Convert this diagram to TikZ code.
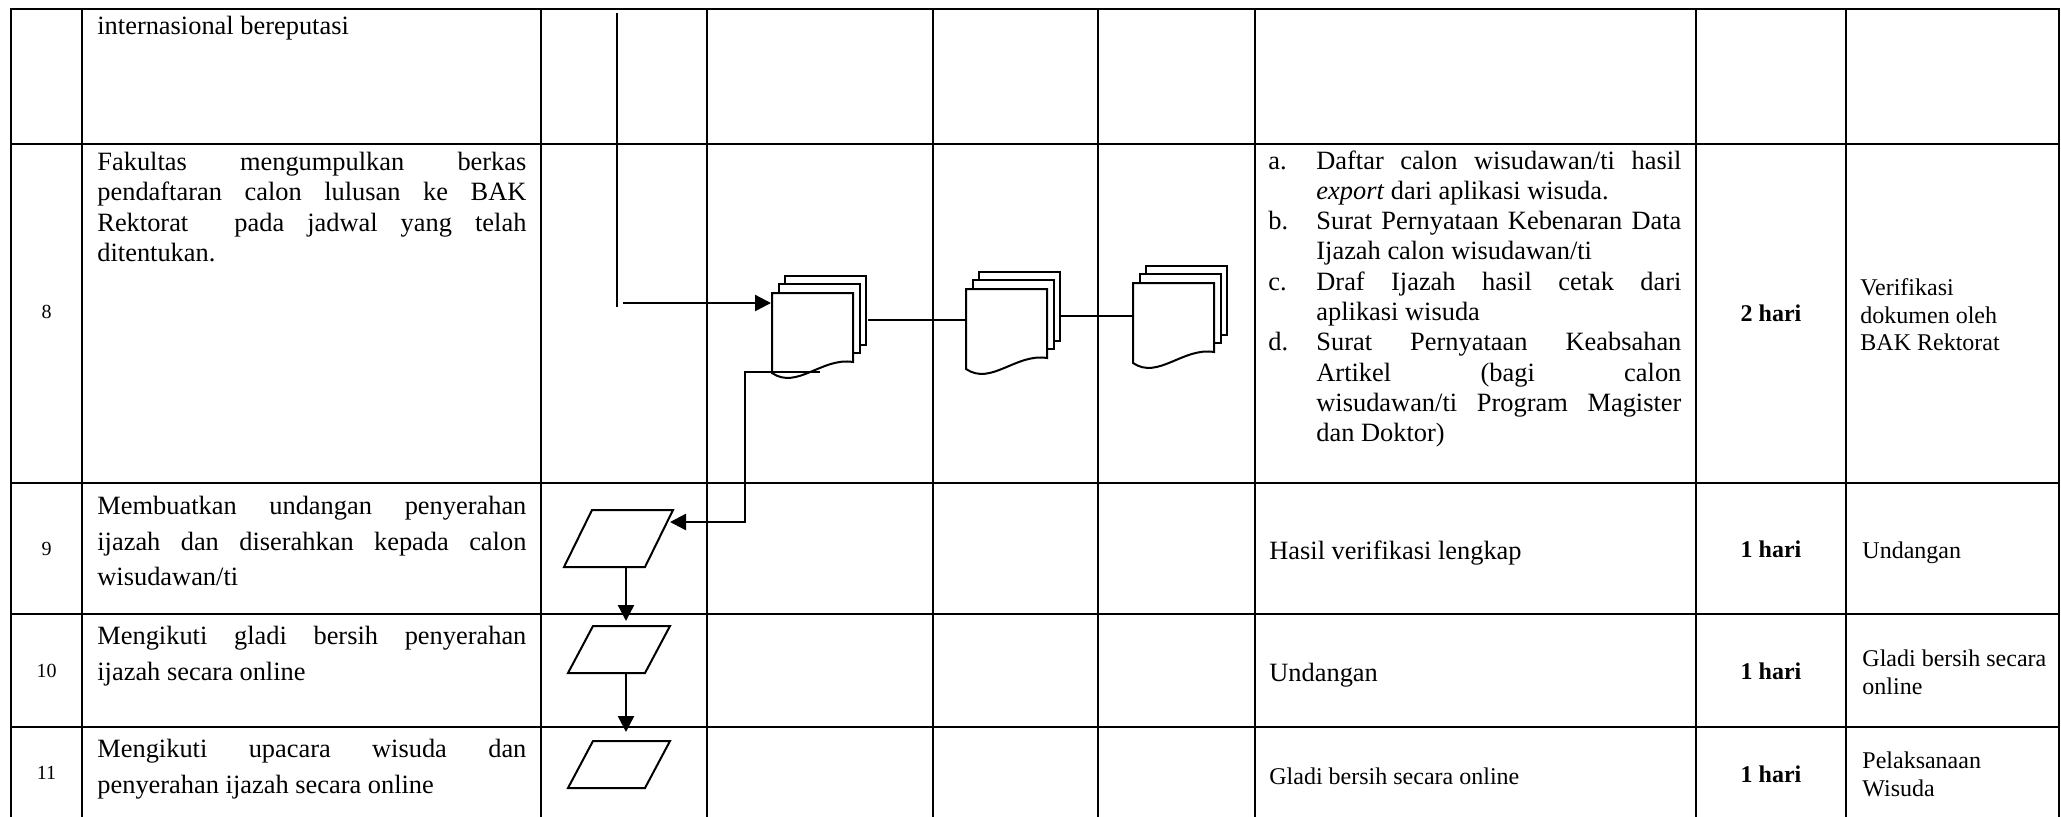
\documentclass[tikz,border=0pt]{standalone}
\usepackage{fontspec}
\setmainfont{Liberation Serif}
\usetikzlibrary{arrows.meta}
\newcommand\jline[2]{\makebox[#1][s]{#2}}
\newcommand\mydocstack[2]{%
  \begin{scope}[shift={(#1,#2)}]
    \draw[shapeline] (13,-17) rectangle (94,52);
    \draw[shapeline] (6.5,-9) rectangle (87.5,60);
    \draw[shapeline] (0,0) -- (81,0) -- (81,69) .. controls (50,64) and (25,97) .. (0,80) -- cycle;
  \end{scope}}
\newcommand\myparal[5]{% x y topwidth slant height
  \draw[shapeline] (#1,#2) -- ++(#3,0) -- ++(-#4,#5) -- ++(-#3,0) -- cycle;}
\tikzset{
  gridline/.style={line width=1.1pt},
  maintext/.style={anchor=base west, inner sep=0pt, font=\fontsize{13.2}{15}\selectfont},
  smalltext/.style={anchor=base west, inner sep=0pt, font=\fontsize{12}{14}\selectfont},
  numtext/.style={anchor=base, inner sep=0pt, font=\fontsize{10}{12}\selectfont},
  durtext/.style={anchor=base, inner sep=0pt, font=\fontsize{12}{14}\selectfont\bfseries},
  shapeline/.style={draw=black, line width=1pt, fill=white, line join=miter},
  thinline/.style={line width=0.65pt},
  linkline/.style={line width=0.8pt},
  flowarrow/.style={line width=1.2pt, -{Triangle[length=8pt,width=8pt]}},
}
\begin{document}
\begin{tikzpicture}[x=0.5pt,y=-0.5pt]
\useasboundingbox (0,0) rectangle (2061,816);
% ---------- table grid ----------
\draw[gridline] (11,817) -- (11,9) -- (2059,9) -- (2059,817);
\foreach \xx in {82,541,707,933,1098,1255,1696,1846}
  \draw[gridline] (\xx,9) -- (\xx,817);
\foreach \yy in {144,483,614,727}
  \draw[gridline] (11,\yy) -- (2059,\yy);

% ---------- row 7 (continued) ----------
\node[maintext] (r7d) at (97,34) {internasional bereputasi};

% ---------- row 8 ----------
\node[numtext] (n8) at (46.5,318) {8};
\node[maintext] (r8d1) at (97,170) {\jline{214.5pt}{Fakultas mengumpulkan berkas}};
\node[maintext] (r8d2) at (97,200) {\jline{214.5pt}{pendaftaran calon lulusan ke BAK}};
\node[maintext] (r8d3) at (97,231) {\jline{214.5pt}{Rektorat\ \ pada jadwal yang telah}};
\node[maintext] (r8d4) at (97,261) {ditentukan.};

\node[maintext] (la) at (1268,169) {a.};
\node[maintext] (ia1) at (1316,169) {\jline{182.5pt}{Daftar calon wisudawan/ti hasil}};
\node[maintext] (ia2) at (1316,199.3) {\textit{export} dari aplikasi wisuda.};
\node[maintext] (lb) at (1268,229.6) {b.};
\node[maintext] (ib1) at (1316,229.6) {\jline{182.5pt}{Surat Pernyataan Kebenaran Data}};
\node[maintext] (ib2) at (1316,259.9) {Ijazah calon wisudawan/ti};
\node[maintext] (lc) at (1268,290.2) {c.};
\node[maintext] (ic1) at (1316,290.2) {\jline{182.5pt}{Draf Ijazah hasil cetak dari}};
\node[maintext] (ic2) at (1316,320.5) {aplikasi wisuda};
\node[maintext] (ld) at (1268,350.8) {d.};
\node[maintext] (id1) at (1316,350.8) {\jline{182.5pt}{Surat Pernyataan Keabsahan}};
\node[maintext] (id2) at (1316,381.1) {\jline{182.5pt}{Artikel (bagi calon}};
\node[maintext] (id3) at (1316,411.4) {\jline{182.5pt}{wisudawan/ti Program Magister}};
\node[maintext] (id4) at (1316,441.7) {dan Doktor)};

\node[durtext] (d8) at (1771,321) {2 hari};
\node[smalltext] (o8a) at (1860,295) {Verifikasi};
\node[smalltext] (o8b) at (1860,323) {dokumen oleh};
\node[smalltext] (o8c) at (1860,350) {BAK Rektorat};

% ---------- row 9 ----------
\node[numtext] (n9) at (46.5,555) {9};
\node[maintext] (r9d1) at (97,514) {\jline{214.5pt}{Membuatkan undangan penyerahan}};
\node[maintext] (r9d2) at (97,550) {\jline{214.5pt}{ijazah dan diserahkan kepada calon}};
\node[maintext] (r9d3) at (97,585) {wisudawan/ti};
\node[maintext] (i9) at (1269,559) {Hasil verifikasi lengkap};
\node[durtext] (d9) at (1771,557) {1 hari};
\node[smalltext] (o9) at (1862,558) {Undangan};

% ---------- row 10 ----------
\node[numtext] (n10) at (46.5,677) {10};
\node[maintext] (r10d1) at (97,644) {\jline{214.5pt}{Mengikuti gladi bersih penyerahan}};
\node[maintext] (r10d2) at (97,680) {ijazah secara online};
\node[maintext] (i10) at (1269,681) {Undangan};
\node[durtext] (d10) at (1771,679) {1 hari};
\node[smalltext] (o10a) at (1862,666) {Gladi bersih secara};
\node[smalltext] (o10b) at (1862,694) {online};

% ---------- row 11 ----------
\node[numtext] (n11) at (46.5,779) {11};
\node[maintext] (r11d1) at (97,757) {\jline{214.5pt}{Mengikuti upacara wisuda dan}};
\node[maintext] (r11d2) at (97,793) {penyerahan ijazah secara online};
\node[smalltext] (i11) at (1269,784) {Gladi bersih secara online};
\node[durtext] (d11) at (1771,782) {1 hari};
\node[smalltext] (o11a) at (1862,768) {Pelaksanaan};
\node[smalltext] (o11b) at (1862,796) {Wisuda};

% ---------- flowchart shapes ----------
\mydocstack{772}{293}
\mydocstack{966}{289}
\mydocstack{1133}{283}
\myparal{592}{510}{81}{28}{57}
\myparal{593}{626}{77}{25}{47}
\myparal{593}{741}{77}{25}{47}

% ---------- connectors ----------
\coordinate (vtop) at (617,13);
\coordinate (vbot) at (617,307);
\coordinate (a8start) at (623,303);
\coordinate (s1in) at (771,303);
\coordinate (s1out) at (868,320);
\coordinate (s2in) at (966,320);
\coordinate (s2out) at (1060,316);
\coordinate (s3in) at (1133,316);
\coordinate (ret0) at (820,372);
\coordinate (ret1) at (745,372);
\coordinate (ret2) at (745,522);
\coordinate (p9in) at (670,522);
\coordinate (p9bot) at (626,567);
\coordinate (p10top) at (626,621);
\coordinate (p10bot) at (626,673);
\coordinate (p11top) at (626,732);

\draw[thinline] (vtop) -- (vbot);
\draw[flowarrow] (a8start) -- (s1in);
\draw[linkline] (s1out) -- (s2in);
\draw[linkline] (s2out) -- (s3in);
\draw[flowarrow, line join=miter] (ret0) -- (ret1) -- (ret2) -- (p9in);
\draw[flowarrow] (p9bot) -- (p10top);
\draw[flowarrow] (p10bot) -- (p11top);
\end{tikzpicture}
\end{document}
